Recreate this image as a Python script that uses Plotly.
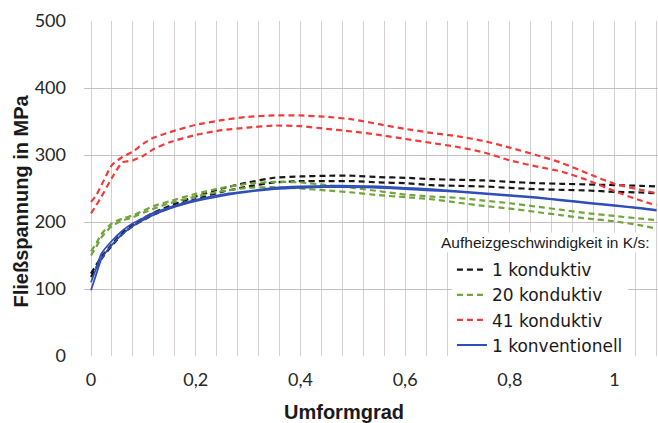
import plotly.graph_objects as go

strain = [0, 0.01, 0.02, 0.04, 0.06, 0.08, 0.1, 0.12, 0.15, 0.2, 0.25, 0.3, 0.35, 0.4,
          0.45, 0.5, 0.55, 0.6, 0.65, 0.7, 0.75, 0.8, 0.85, 0.9, 0.95, 1.0, 1.05, 1.08]

k1_a = [123, 136, 148, 167, 184, 196, 206, 214, 224, 238, 250, 259, 266, 268,
        269, 269, 267, 266, 264, 263, 262, 260, 258, 257, 256, 255, 254, 253]
k1_b = [118, 132, 145, 165, 182, 194, 203, 211, 221, 234, 245, 253, 259, 261,
        261, 261, 259, 258, 255, 254, 253, 251, 249, 248, 247, 245, 244, 243]

k20_a = [156, 168, 182, 198, 205, 210, 217, 224, 231, 242, 251, 257, 260, 259,
         255, 251, 246, 241, 238, 236, 232, 228, 223, 218, 213, 209, 205, 203]
k20_b = [150, 163, 177, 194, 202, 207, 214, 220, 228, 238, 246, 251, 252, 250,
         247, 244, 240, 237, 234, 229, 224, 220, 215, 210, 205, 201, 195, 190]

k41_a = [230, 240, 255, 285, 297, 305, 317, 326, 334, 345, 352, 357, 359, 359,
         357, 353, 346, 339, 333, 328, 321, 311, 300, 288, 272, 257, 248, 243]
k41_b = [213, 225, 238, 266, 289, 292, 299, 309, 319, 330, 337, 341, 344, 343,
         339, 335, 330, 324, 318, 312, 304, 292, 283, 275, 262, 246, 232, 225]

konv_a = [110, 131, 153, 172, 187, 198, 206, 214, 222, 233, 241, 246, 251, 253,
          254, 254, 253, 251, 249, 246, 243, 240, 237, 233, 229, 225, 221, 218]
konv_b = [98, 122, 145, 166, 182, 194, 203, 211, 220, 231, 239, 245, 249, 251,
          252, 252, 251, 249, 247, 245, 242, 239, 236, 232, 228, 224, 220, 217]

x_tickvals = [0, 0.2, 0.4, 0.6, 0.8, 1.0]
x_ticktext = ["0", "0,2", "0,4", "0,6", "0,8", "1"]
y_tickvals = [0, 100, 200, 300, 400, 500]

series = [
    ("1 konduktiv", "#161616", "6px,4px", [k1_a, k1_b]),
    ("20 konduktiv", "#6fa53a", "6px,4px", [k20_a, k20_b]),
    ("41 konduktiv", "#f23a3a", "6px,4px", [k41_a, k41_b]),
    ("1 konventionell", "#2f4fb8", "solid", [konv_a, konv_b]),
]

fig = go.Figure()
for name, color, dash, curves in series:
    for i, ys in enumerate(curves):
        fig.add_trace(go.Scatter(
            x=strain, y=ys, mode="lines", name=name,
            showlegend=(i == 0),
            line=dict(color=color, width=2.2 if dash != "solid" else 1.8,
                      dash=dash, shape="spline", smoothing=0.6),
        ))

grid_col = "#d6cfcf"
fig.update_layout(
    width=658, height=423,
    margin=dict(l=84, r=0, t=21, b=67),
    paper_bgcolor="white", plot_bgcolor="white",
    showlegend=True,
    legend=dict(
        x=0.641, y=0.31, xanchor="left", yanchor="top",
        bgcolor="white", borderwidth=0,
        font=dict(family="DejaVu Sans", size=17, color="#1a1a1a"),
        itemwidth=30, tracegroupgap=0,
    ),
    xaxis=dict(
        range=[-0.0134, 1.083], tickvals=x_tickvals, ticktext=x_ticktext,
        automargin=False,
        showgrid=True, gridcolor=grid_col, gridwidth=1,
        minor=dict(dtick=0.04, tick0=0, showgrid=True, gridcolor=grid_col, gridwidth=1),
        zeroline=False, showline=False, ticks="",
        tickfont=dict(family="Lato", size=18, color="#262626"),
        ticklabelstandoff=11,
    ),
    yaxis=dict(
        range=[0, 500], tickvals=y_tickvals,
        automargin=False,
        showgrid=True, gridcolor="#c9c0c0", gridwidth=1,
        zeroline=False, showline=False, ticks="",
        tickfont=dict(family="Lato", size=18, color="#262626"),
        ticklabelstandoff=17,
    ),
)

fig.add_shape(type="rect", xref="paper", yref="paper", layer="below",
              x0=0.615, x1=1.0, y0=0.012, y1=0.37,
              fillcolor="white", line=dict(width=0))

fig.add_annotation(
    xref="paper", yref="paper", x=0.618, y=0.307, xanchor="left", yanchor="bottom",
    text="Aufheizgeschwindigkeit in K/s:", showarrow=False, bgcolor="white",
    font=dict(family="Liberation Sans", size=15.5, color="#1a1a1a"),
)

# axis titles
fig.add_annotation(
    xref="paper", yref="paper", x=0.4538, y=-0.167, xanchor="center", yanchor="middle",
    text="<b>Umformgrad</b>", showarrow=False,
    font=dict(family="Liberation Sans", size=20, color="#1a1a1a"),
)
fig.add_annotation(
    xref="paper", yref="paper", x=-0.1098, y=0.464, xanchor="center", yanchor="middle",
    text="<b>Fließspannung in MPa</b>", showarrow=False, textangle=-90,
    font=dict(family="Liberation Sans", size=20, color="#1a1a1a"),
)

fig.write_html("out.html", config={"displayModeBar": False},
               post_script="document.body.style.margin='0';document.body.style.padding='0';")
